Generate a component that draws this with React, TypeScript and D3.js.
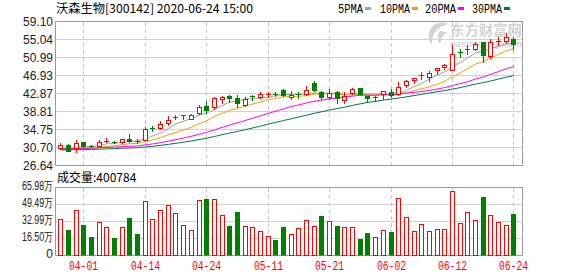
import React, { useEffect } from "react";
import * as d3 from "d3";

// ---- data ----
const dates = [
  "03-27", "03-30", "03-31", "04-01", "04-02", "04-03", "04-07", "04-08", "04-09", "04-10",
  "04-13", "04-14", "04-15", "04-16", "04-17", "04-20", "04-21", "04-22", "04-23", "04-24",
  "04-27", "04-28", "04-29", "04-30", "05-06", "05-07", "05-08", "05-11", "05-12", "05-13",
  "05-14", "05-15", "05-18", "05-19", "05-20", "05-21", "05-22", "05-25", "05-26", "05-27",
  "05-28", "05-29", "06-01", "06-02", "06-03", "06-04", "06-05", "06-08", "06-09", "06-10",
  "06-11", "06-12", "06-15", "06-16", "06-17", "06-18", "06-19", "06-22", "06-23", "06-24",
];
const opens = [
  30.40, 31.15, 30.55, 31.75, 30.98, 30.95, 31.90, 31.80, 31.82, 32.57,
  32.02, 32.30, 35.00, 34.98, 36.03, 37.25, 37.80, 37.08, 38.29, 39.94,
  39.64, 41.60, 42.20, 41.74, 40.09, 42.20, 41.95, 42.60, 42.70, 43.45,
  41.89, 42.60, 42.64, 45.05, 43.09, 41.89, 43.09, 41.29, 42.94, 44.00,
  42.25, 41.85, 42.64, 43.09, 42.64, 44.60, 45.80, 47.00, 46.55, 48.05,
  48.65, 48.05, 52.20, 52.60, 52.86, 54.37, 51.21, 54.60, 54.67, 54.97,
];
const highs = [
  31.67, 31.35, 32.20, 31.85, 31.20, 32.27, 32.65, 32.00, 32.60, 33.63,
  32.50, 35.13, 35.40, 36.63, 37.68, 37.90, 37.85, 38.13, 40.09, 41.14,
  41.89, 42.10, 42.35, 42.34, 41.89, 42.50, 43.09, 43.10, 43.00, 43.84,
  43.24, 43.10, 44.45, 45.65, 43.24, 43.84, 43.24, 43.09, 44.00, 44.05,
  42.30, 42.20, 43.30, 43.70, 45.35, 45.80, 46.25, 47.60, 47.75, 48.50,
  49.40, 53.61, 52.90, 53.80, 54.37, 54.40, 54.97, 55.50, 56.32, 55.57,
];
const lows = [
  30.30, 29.70, 29.50, 30.80, 30.60, 30.77, 31.85, 31.50, 31.60, 31.82,
  31.50, 32.20, 34.40, 34.83, 35.58, 37.00, 36.90, 36.93, 38.13, 38.44,
  39.34, 40.54, 40.80, 39.64, 39.94, 41.30, 41.74, 41.90, 42.30, 42.19,
  41.59, 41.70, 42.49, 43.24, 41.44, 41.59, 40.69, 40.69, 42.64, 42.50,
  40.80, 41.10, 41.59, 41.89, 42.49, 44.15, 45.20, 46.10, 45.65, 47.15,
  48.35, 48.00, 51.00, 51.70, 52.56, 49.86, 50.76, 53.60, 54.22, 52.86,
];
const closes = [
  31.22, 29.86, 31.50, 30.92, 30.90, 31.80, 31.98, 31.72, 32.40, 31.98,
  31.95, 34.80, 34.90, 35.88, 36.78, 37.40, 37.65, 37.83, 39.64, 39.04,
  41.74, 41.95, 41.80, 40.60, 41.50, 42.05, 42.64, 42.70, 42.60, 42.40,
  42.45, 42.50, 43.55, 43.60, 41.89, 42.79, 41.74, 42.19, 43.70, 42.64,
  41.85, 41.95, 43.24, 42.34, 44.15, 45.50, 46.25, 46.85, 47.45, 48.50,
  49.10, 51.66, 52.00, 52.70, 53.92, 51.36, 54.37, 54.70, 55.42, 53.92,
];
const volumes = [
  348000, 238000, 438000, 293000, 171000, 322000, 270000, 167000, 270000, 361000,
  206000, 522000, 348000, 438000, 483000, 410000, 292000, 245000, 534000, 545000,
  545000, 390000, 283000, 419000, 280000, 271000, 235000, 184000, 148000, 274000,
  206000, 262000, 339000, 278000, 380000, 328000, 283000, 276000, 270000, 160000,
  216000, 174000, 244000, 225000, 551000, 367000, 232000, 299000, 232000, 251000,
  251000, 618000, 309000, 415000, 338000, 563000, 386000, 322000, 290000, 400784,
];

const priceTicks = [26.64, 30.70, 34.75, 38.81, 42.87, 46.93, 50.99, 55.04, 59.10];
const volTicks = [0, 165000, 329900, 494900, 659800];
const volTickLabels = ["0", "16.50万", "32.99万", "49.49万", "65.98万"];
const xLabelDates = ["04-01", "04-14", "04-24", "05-11", "05-21", "06-02", "06-12", "06-24"];

const maPeriods = [5, 10, 20, 30];
const maNames = ["5PMA", "10PMA", "20PMA", "30PMA"];
const maColors = ["#a0a0a0", "#f0a300", "#ff00ff", "#007a3d"];
// average level of closes before the window
const maSeeds = [30.0, 30.0, 30.3, 30.0];

const title = "沃森生物[300142] 2020-06-24 15:00";

const RED = "#ff0000";
const GREEN = "#008000";

export default function App() {
  useEffect(() => {
    document.body.style.margin = "0";
  }, []);

  const W = 578;
  const H = 276;
  const left = 55.5;
  const right = 522.5;
  const mainTop = 21;
  const mainBottom = 165;
  const volTop = 187;
  const volBottom = 255;

  const x = d3.scalePoint<string>().domain(dates).range([60.3, 513.4]);
  const y = d3.scaleLinear().domain([26.64, 59.1]).range([mainBottom, mainTop]);
  const yv = d3.scaleLinear().domain([0, 659800]).range([volBottom, volTop]);

  const px = (d: string) => Math.round(x(d) as number);

  const mas = maPeriods.map((n, k) =>
    closes.map((_, i) => {
      let s = 0;
      for (let j = i - n + 1; j <= i; j++) s += j >= 0 ? closes[j] : maSeeds[k];
      return s / n;
    })
  );

  const lineGen = d3
    .line<number>()
    .x((_, i) => (x(dates[i]) as number) + 0.5)
    .y((v) => y(v));

  const font = "'Liberation Sans', Arial, sans-serif";
  const cjk = "'Noto Sans CJK SC', 'Noto Sans', sans-serif";
  const mono = "'Liberation Mono', 'DejaVu Sans Mono', monospace";

  // legend layout
  const legendStarts = [338, 380, 425, 472];
  const legendWidths = [25, 30, 31, 30];

  return (
    <div style={{ position: "fixed", left: 0, top: 0 }}>
      <svg width={W} height={H} style={{ display: "block", background: "#fff" }}>
        <rect x={0} y={0} width={W} height={H} fill="#fff" />

        {/* title */}
        <text x={56} y={13} fontFamily={cjk} fontSize={12} fill="#000" textLength={197} lengthAdjust="spacingAndGlyphs">
          {title}
        </text>

        {/* legend */}
        {maNames.map((name, k) => (
          <g key={name}>
            <text
              x={legendStarts[k]}
              y={13}
              fontFamily={mono}
              fontSize={12}
              fill="#000"
              textLength={legendWidths[k]}
              lengthAdjust="spacingAndGlyphs"
            >
              {name}
            </text>
            <rect x={legendStarts[k] + legendWidths[k] + 2} y={7} width={6} height={3} fill={maColors[k]} />
          </g>
        ))}

        {/* watermark */}
        <g fill="#d4d4d4">
          <path d="M436,24 C428,28 426,38 432,45 C431,38 434,31 441,27 C446,25 448,24 448,24 C444,22 440,22 436,24 Z" />
          <path d="M440,31 C437,35 437,40 440,44 C441,39 443,35 447,32 Z" />
          <text x={450} y={35} fontFamily={cjk} fontSize={13.5} fontWeight="bold" textLength={72} lengthAdjust="spacingAndGlyphs">
            东方财富网
          </text>
          <text x={450} y={46.5} fontFamily={font} fontSize={8.5} fontWeight="bold" textLength={72} lengthAdjust="spacingAndGlyphs">
            eastmoney.com
          </text>
        </g>

        {/* main panel grid */}
        {priceTicks.map((t) => {
          const yy = Math.round(y(t)) + 0.5;
          const isBorder = t === priceTicks[0] || t === priceTicks[priceTicks.length - 1];
          return (
            <g key={t}>
              <line x1={left} x2={right} y1={yy} y2={yy} stroke={isBorder ? "#9a9a9a" : "#d2d2d2"} strokeWidth={1} />
              <text x={53} y={yy} fontFamily={font} fontSize={12} fill="#222" textAnchor="end" dominantBaseline="central">
                {t.toFixed(2)}
              </text>
            </g>
          );
        })}
        {xLabelDates.map((d) => {
          const xx = px(d) + 0.5;
          return (
            <g key={d}>
              <line x1={xx} x2={xx} y1={mainTop + 1} y2={mainBottom} stroke="#c8c8c8" strokeDasharray="4,3" />
              <line x1={xx} x2={xx} y1={volTop + 1} y2={volBottom} stroke="#c8c8c8" strokeDasharray="4,3" />
              <text
                x={xx}
                y={270}
                fontFamily={mono}
                fontSize={12}
                fill={RED}
                textAnchor="middle"
                textLength={29}
                lengthAdjust="spacingAndGlyphs"
              >
                {d}
              </text>
            </g>
          );
        })}
        <line x1={left} x2={left} y1={mainTop} y2={mainBottom + 0.5} stroke="#9a9a9a" />
        <line x1={right} x2={right} y1={mainTop} y2={mainBottom + 0.5} stroke="#9a9a9a" />

        {/* MA lines */}
        {mas.map((arr, k) => (
          <path key={k} d={lineGen(arr) || ""} fill="none" stroke={maColors[k]} strokeWidth={1} />
        ))}

        {/* candles */}
        {dates.map((d, i) => {
          const xi = px(d);
          const o = opens[i];
          const c = closes[i];
          const prev = i > 0 ? closes[i - 1] : o;
          const up = c > o || (c === o && c >= prev);
          const col = up ? RED : GREEN;
          const yo = Math.round(y(o));
          const yc = Math.round(y(c));
          const yh = Math.round(y(highs[i]));
          const yl = Math.round(y(lows[i]));
          const top = Math.min(yo, yc);
          const bot = Math.max(yo, yc);
          return (
            <g key={d}>
              <line x1={xi + 0.5} x2={xi + 0.5} y1={yh} y2={yl + 1} stroke={col} />
              {bot - top < 2 ? (
                <rect x={xi - 2} y={top} width={5} height={Math.max(1, bot - top)} fill={col} />
              ) : up ? (
                <rect x={xi - 1.5} y={top + 0.5} width={4} height={bot - top} fill="#fff" stroke={col} />
              ) : (
                <rect x={xi - 2} y={top} width={5} height={bot - top + 1} fill={col} />
              )}
            </g>
          );
        })}

        {/* volume panel */}
        <text x={57} y={182} fontFamily={cjk} fontSize={12} fill="#000">
          {"成交量:" + volumes[volumes.length - 1]}
        </text>
        {volTicks.map((t, k) => {
          const yy = Math.round(yv(t)) + 0.5;
          const isBorder = k === 0 || k === volTicks.length - 1;
          return (
            <g key={t}>
              <line x1={left} x2={right} y1={yy} y2={yy} stroke={isBorder ? "#9a9a9a" : "#d2d2d2"} />
              <text
                x={53}
                y={yy - 1.5}
                fontFamily={font}
                fontSize={12}
                fill="#222"
                textAnchor="end"
                dominantBaseline="central"
                textLength={k === 0 ? undefined : 31}
                lengthAdjust="spacingAndGlyphs"
              >
                {volTickLabels[k]}
              </text>
            </g>
          );
        })}
        <line x1={left} x2={left} y1={volTop} y2={volBottom + 0.5} stroke="#9a9a9a" />
        <line x1={right} x2={right} y1={volTop} y2={volBottom + 0.5} stroke="#9a9a9a" />

        {dates.map((d, i) => {
          const xi = px(d);
          const prev = i > 0 ? closes[i - 1] : opens[i];
          const up = closes[i] >= prev;
          const yt = Math.round(yv(volumes[i]));
          return up ? (
            <rect key={d} x={xi - 1.5} y={yt + 0.5} width={4} height={volBottom - yt} fill="#fff" stroke={RED} />
          ) : (
            <rect key={d} x={xi - 2} y={yt} width={5} height={volBottom - yt + 0.5} fill={GREEN} />
          );
        })}
      </svg>
    </div>
  );
}
